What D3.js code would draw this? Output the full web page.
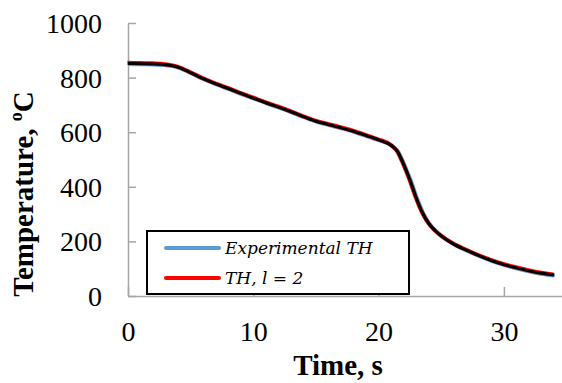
<!DOCTYPE html>
<html>
<head>
<meta charset="utf-8">
<script src="https://cdn.jsdelivr.net/npm/d3@7"></script>
<style>
  body { margin: 0; background: #fff; }
  svg { display: block; }
  .axis text { font-family: "Liberation Serif", "Times New Roman", serif; font-size: 28px; fill: #000; }
</style>
</head>
<body>
<div id="chart"></div>
<script>
// time (s) and temperature (°C)
const times = [0, 1, 2, 3, 4, 5, 6, 7, 8, 9, 10, 11, 12, 13, 14, 15, 16, 17, 18, 19, 20, 21, 21.5, 22, 22.5, 23, 23.5, 24, 24.5, 25, 26, 27, 28, 29, 30, 31, 32, 33, 34];
const temps = [852, 851, 850, 847, 838, 818, 796, 777, 760, 742, 725, 708, 692, 675, 657, 640, 628, 616, 603, 588, 572, 552, 530, 482, 425, 360, 305, 266, 240, 220, 190, 168, 148, 130, 115, 103, 92, 83, 77];
const xTicks = [0, 10, 20, 30];
const yTicks = [0, 200, 400, 600, 800, 1000];
const legendLabels = ['Experimental TH', 'TH, l = 2'];

const width = 562, height = 383;
const plotLeft = 128, plotTop = 23, plotBottom = 296;

const svg = d3.select('#chart').append('svg')
  .attr('width', width)
  .attr('height', height);

const x = d3.scaleLinear().domain([0, 35]).range([plotLeft, plotLeft + 35 * 12.53]);
const y = d3.scaleLinear().domain([0, 1000]).range([plotBottom, plotTop]);

const axisColor = '#a6a6a6';

// x axis, ticks pointing inward
const xAxis = svg.append('g')
  .attr('class', 'axis')
  .attr('transform', `translate(0,${plotBottom})`)
  .call(d3.axisBottom(x).tickValues(xTicks).tickFormat(d3.format('d')).tickSize(-9).tickSizeOuter(0));
xAxis.attr('font-family', null).attr('font-size', null);
xAxis.select('.domain').attr('stroke', axisColor).attr('stroke-width', 1.5);
xAxis.selectAll('.tick line').attr('stroke', axisColor).attr('stroke-width', 1.5);
xAxis.selectAll('.tick text')
  .attr('dy', null)
  .attr('y', 45);

// y axis
const yAxis = svg.append('g')
  .attr('class', 'axis')
  .attr('transform', `translate(${plotLeft},0)`)
  .call(d3.axisLeft(y).tickValues(yTicks).tickFormat(d3.format('d')).tickSize(-8).tickSizeOuter(0));
yAxis.attr('font-family', null).attr('font-size', null);
yAxis.select('.domain').attr('stroke', axisColor).attr('stroke-width', 1.5);
yAxis.selectAll('.tick line').attr('stroke', axisColor).attr('stroke-width', 1.5);
yAxis.selectAll('.tick text')
  .attr('dy', '0.34em')
  .attr('x', -26);

const data = times.map((t, i) => ({ t: t, v: temps[i] }));
const line = d3.line()
  .x(d => x(d.t))
  .y(d => y(d.v))
  .curve(d3.curveMonotoneX);

// blue and red series sit under a dark line, so only their edges show
svg.append('path').datum(data)
  .attr('d', line)
  .attr('fill', 'none')
  .attr('stroke', '#5b9bd5')
  .attr('stroke-width', 4)
  .attr('transform', 'translate(0.8,0.6)');
svg.append('path').datum(data)
  .attr('d', line)
  .attr('fill', 'none')
  .attr('stroke', '#ff0000')
  .attr('stroke-width', 4)
  .attr('transform', 'translate(-0.6,-0.6)');
svg.append('path').datum(data)
  .attr('d', line)
  .attr('fill', 'none')
  .attr('stroke', '#000')
  .attr('stroke-width', 3);

// legend
const legend = svg.append('g');
legend.append('rect')
  .attr('x', 147).attr('y', 231)
  .attr('width', 262).attr('height', 63)
  .attr('fill', '#fff')
  .attr('stroke', '#000')
  .attr('stroke-width', 2);

const legendColors = ['#5b9bd5', '#ff0000'];
legendLabels.forEach((label, i) => {
  const ly = 248 + i * 30;
  legend.append('line')
    .attr('x1', 166).attr('x2', 219)
    .attr('y1', ly).attr('y2', ly)
    .attr('stroke', legendColors[i])
    .attr('stroke-width', 4)
    .attr('stroke-linecap', 'round');
  legend.append('text')
    .attr('x', 225).attr('y', ly + 6)
    .style('font-family', '"DejaVu Serif", serif')
    .style('font-style', 'italic')
    .style('font-size', '17px')
    .text(label);
});

// axis titles
svg.append('text')
  .attr('x', 338).attr('y', 375)
  .attr('text-anchor', 'middle')
  .style('font-family', '"Liberation Serif", serif')
  .style('font-weight', 'bold')
  .style('font-size', '29px')
  .text('Time, s');

const yTitle = svg.append('text')
  .attr('transform', 'translate(33,194) rotate(-90)')
  .attr('text-anchor', 'middle')
  .style('font-family', '"Liberation Serif", serif')
  .style('font-weight', 'bold')
  .style('font-size', '29px');
yTitle.append('tspan').text('Temperature, ');
yTitle.append('tspan').attr('dy', -11).style('font-size', '18px').text('o');
yTitle.append('tspan').attr('dy', 11).text('C');
</script>
</body>
</html>
